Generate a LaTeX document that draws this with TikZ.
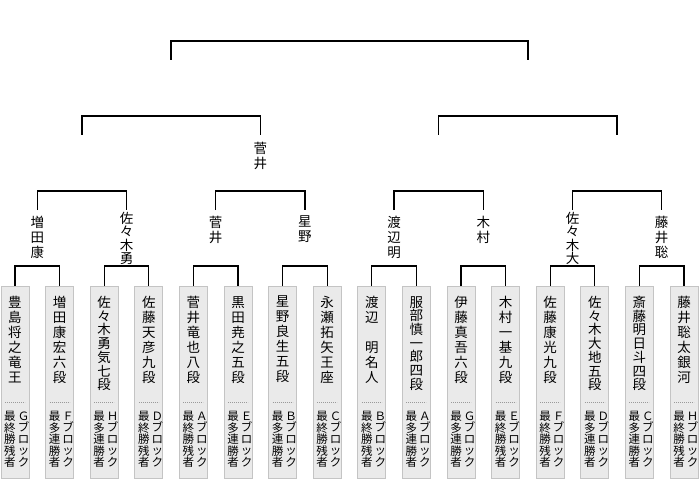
\documentclass[tikz,border=0pt]{standalone}
\usepackage{fontspec}
\newfontfamily\jp{Noto Sans CJK JP}
\usetikzlibrary{calc,positioning}
\definecolor{boxfill}{HTML}{EAEAEA}
\definecolor{boxline}{HTML}{C4C4C4}
\definecolor{dotgray}{HTML}{9A9A9A}

% characters stacked top to bottom
\newcommand\tate[2][15pt]{\vbox{\baselineskip=#1\relax\lineskiplimit=-\maxdimen
  \expandafter\tatechars#2\relax}}
\def\tatechars#1{\ifx#1\relax\else\hbox to 1em{\hss#1\hss}\expandafter\tatechars\fi}
\newcommand\zw{\phantom{明}}

\tikzset{
  bracket/.style={
    line width=1.3pt,
  },
  player/.style={
    draw=boxline,
    fill=boxfill,
    line width=1pt,
    minimum width=28,
    minimum height=192,
    inner sep=0,
    anchor=south
  },
  pname/.style={
    inner sep=0,
    anchor=north,
    font=\jp\fontsize{13.5}{15}\selectfont
  },
  pnote/.style={
    inner sep=0,
    anchor=north,
    font=\jp\fontsize{11.5}{11.5}\selectfont
  },
  dotsep/.style={
    dotgray,
    line width=0.8pt,
    dash pattern=on 0.8pt off 1.2pt
  },
}

\begin{document}
\begin{tikzpicture}[x=1pt,y=1pt]
    \useasboundingbox (0,0) rectangle (700,480);
    % first round
    \foreach \i/\nm/\sk/\blk/\kind in {
      1/豊島将之竜王/15/Ｇ/最終勝残者,
      2/増田康宏六段/15/Ｆ/最多連勝者,
      3/佐々木勇気七段/13.7/Ｈ/最多連勝者,
      4/佐藤天彦九段/15/Ｄ/最終勝残者,
      5/菅井竜也八段/15/Ａ/最終勝残者,
      6/黒田尭之五段/15/Ｅ/最多連勝者,
      7/星野良生五段/15/Ｂ/最多連勝者,
      8/永瀬拓矢王座/15/Ｃ/最終勝残者,
      9/渡辺\zw 明名人/15/Ｂ/最終勝残者,
      10/服部慎一郎四段/13.7/Ａ/最多連勝者,
      11/伊藤真吾六段/15/Ｇ/最多連勝者,
      12/木村一基九段/15/Ｅ/最終勝残者,
      13/佐藤康光九段/15/Ｆ/最終勝残者,
      14/佐々木大地五段/13.7/Ｄ/最多連勝者,
      15/斎藤明日斗四段/13.7/Ｃ/最多連勝者,
      16/藤井聡太銀河/15/Ｈ/最終勝残者}{
      \node[player] (b\i) at ({15+44.6*(\i-1)},1) {};
      \node[pname] (n\i) at ($(b\i.north)+(0,-10)$) {\tate[\sk pt]{\nm}};
      \draw[dotsep] ($(b\i.south)+(-10,77)$) -- ($(b\i.south)+(10,77)$);
      \node[pnote] (k\i) at ($(b\i.south)+(-5,67.5)$) {\tate[11.5pt]{\kind}};
      \node[pnote] (g\i) at ($(b\i.south)+(8.5,67.5)$) {\tate[11.5pt]{\blk ブロック}};
    }
    \foreach \a/\b in {1/2,3/4,5/6,7/8,9/10,11/12,13/14,15/16}
      \draw[bracket] (b\a.north) -- ++(0,20) -| (b\b.north);
    % quarter finals
    \foreach \j/\w/\sk/\dy in {1/増田康/15/6, 2/佐々木勇/13.3/2, 3/菅井/15/6,
      4/星野/15/6, 5/渡辺明/15/6, 6/木村/15/6, 7/佐々木大/13.3/2, 8/藤井聡/15/6}{
      \coordinate (q\j) at ({37.3+89.2*(\j-1)},270);
      \node[pname] (w\j) at ($(q\j)+(0,-\dy)$) {\tate[\sk pt]{\w}};
    }
    \foreach \a/\b in {1/2,3/4,5/6,7/8}
      \draw[bracket] (q\a) -- ++(0,19) -| (q\b);
    % semi finals
    \foreach \j in {1,...,4}
      \coordinate (s\j) at ({81.9+178.4*(\j-1)},345);
    \node[pname] (t2) at ($(s2)+(0,-7)$) {\tate{菅井}};
    \draw[bracket] (s1) -- ++(0,19) -| (s2);
    \draw[bracket] (s3) -- ++(0,19) -| (s4);
    % final
    \coordinate (f1) at (171.1,420);
    \coordinate (f2) at (527.9,420);
    \draw[bracket] (f1) -- ++(0,19) -| (f2);
\end{tikzpicture}
\end{document}
